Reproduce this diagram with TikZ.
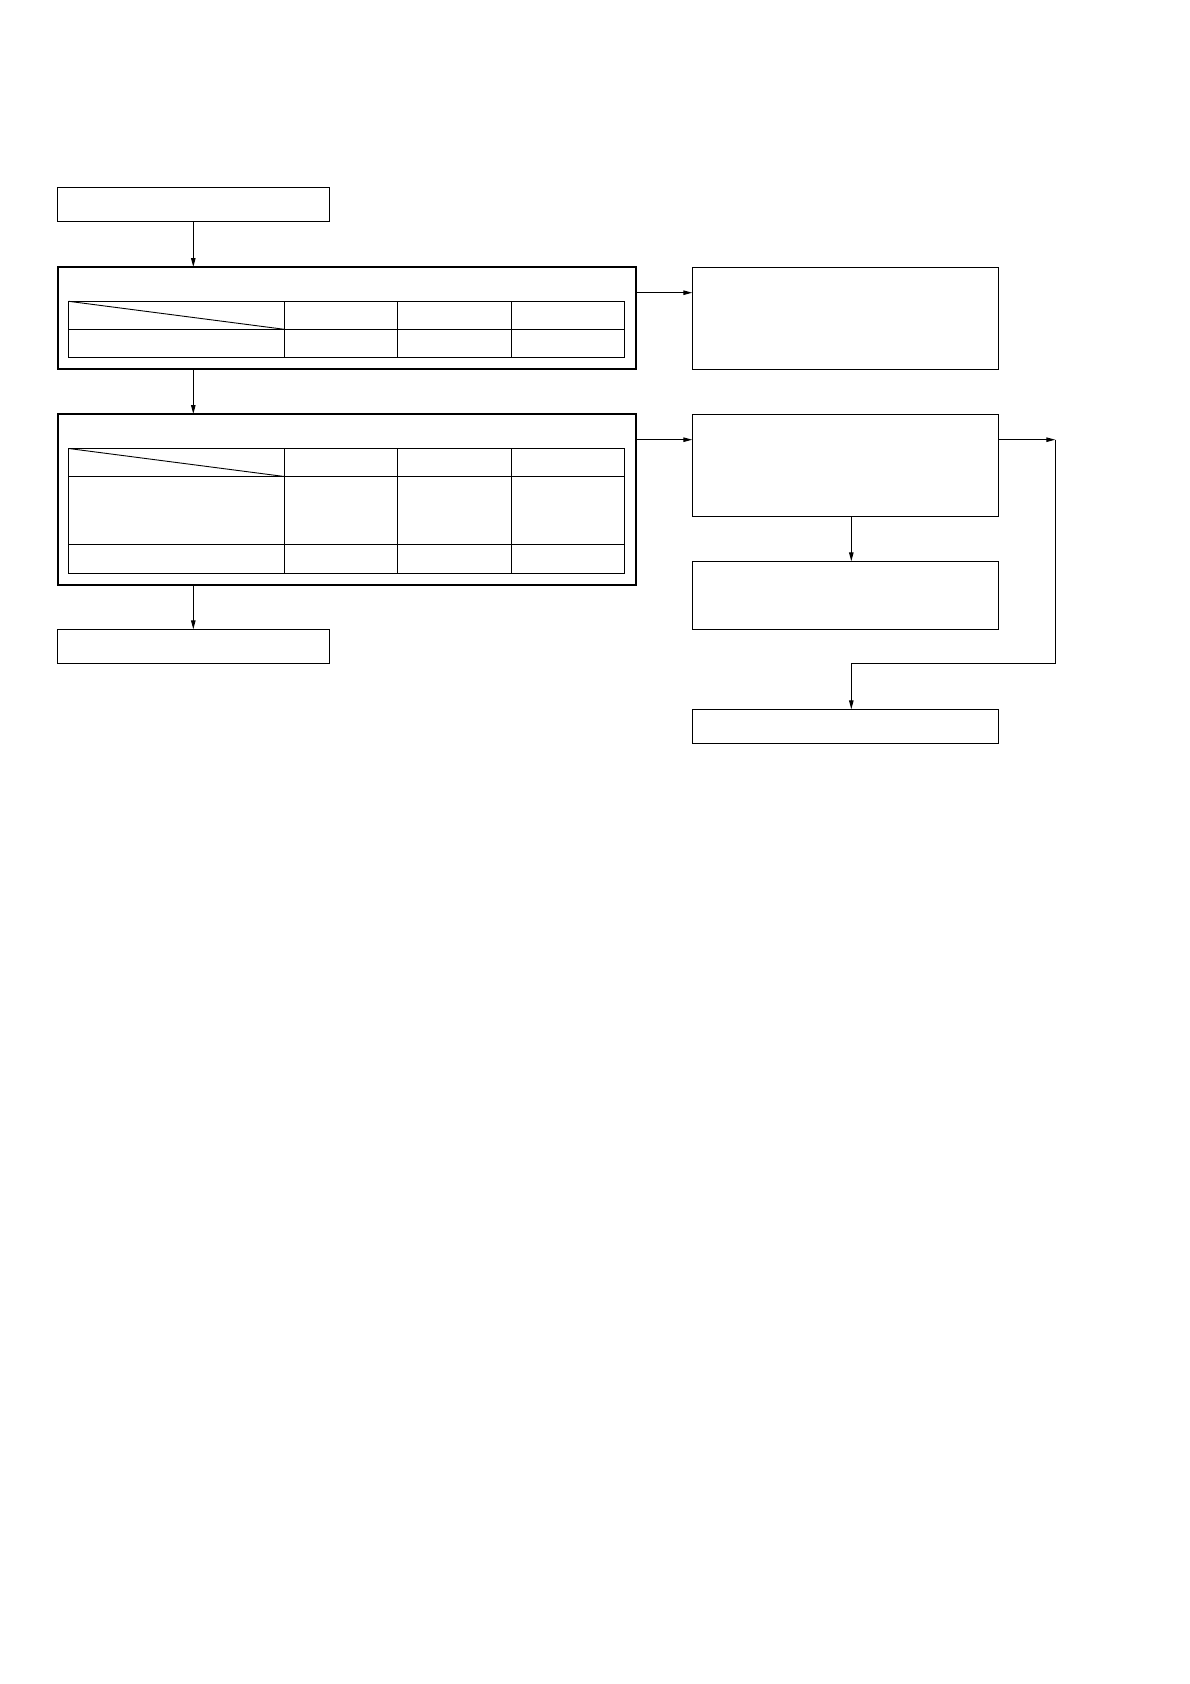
\documentclass[tikz,border=0pt]{standalone}
\usetikzlibrary{arrows.meta,calc}
\begin{document}
\begin{tikzpicture}[x=1pt,y=1pt,
  thinbox/.style={draw,line width=1pt,inner sep=0pt,outer sep=0pt,anchor=north west},
  thickbox/.style={draw,line width=2.2pt,inner sep=0pt,outer sep=0pt,anchor=north west},
  tabline/.style={line width=0.9pt},
  arr/.style={line width=1pt,-{Triangle[length=9pt,width=4.5pt]}},
  plain/.style={line width=1pt}]
\useasboundingbox (0,0) rectangle (1190,-1684);
% left column
\node[thinbox,minimum width=272pt,minimum height=34pt] (start) at (57.3,-187.3) {};
\node[thickbox,minimum width=578.3pt,minimum height=102pt] (t1) at (57.7,-267) {};
\node[thickbox,minimum width=578.3pt,minimum height=171pt] (t2) at (57.7,-414) {};
\node[thinbox,minimum width=272pt,minimum height=34pt] (endl) at (57.3,-629.3) {};
% right column
\node[thinbox,minimum width=306.4pt,minimum height=102pt] (r1) at (692.3,-267.3) {};
\node[thinbox,minimum width=306.4pt,minimum height=102pt] (r2) at (692.3,-414.3) {};
\node[thinbox,minimum width=306.4pt,minimum height=68pt] (r3) at (692.3,-561.3) {};
\node[thinbox,minimum width=306.4pt,minimum height=34pt] (r4) at (692.3,-709.3) {};
% table 1
\draw[tabline] (68.7,-301.3) rectangle (624.7,-357.7);
\draw[tabline] (68.7,-329.3) -- (624.7,-329.3);
\foreach \cx in {284.3,397.7,511} \draw[tabline] (\cx,-301.3) -- (\cx,-357.7);
\draw[tabline] (68.7,-301.3) -- (284.3,-329.3);
% table 2
\draw[tabline] (68.7,-448.5) rectangle (624.7,-573.3);
\draw[tabline] (68.7,-476.5) -- (624.7,-476.5);
\draw[tabline] (68.7,-544.3) -- (624.7,-544.3);
\foreach \cx in {284.3,397.7,511} \draw[tabline] (\cx,-448.5) -- (\cx,-573.3);
\draw[tabline] (68.7,-448.5) -- (284.3,-476.5);
% connectors
\draw[arr] (start.south) -- (start.south |- t1.north);
\draw[arr] (start.south |- t1.south) -- (start.south |- t2.north);
\draw[arr] (start.south |- t2.south) -- (endl.north);
\draw[arr] ([yshift=-25.7pt]t1.north east) -- ([yshift=-25.4pt]r1.north west);
\draw[arr] ([yshift=-25.7pt]t2.north east) -- ([yshift=-25.4pt]r2.north west);
\coordinate (mid) at ([xshift=159pt]r2.south west);
\draw[arr] (mid) -- (mid |- r3.north);
\coordinate (lp) at (1055.3,-439.7);
\coordinate (lc) at (1055.3,-663.3);
\draw[arr] ([yshift=-25.4pt]r2.north east) -- (lp);
\draw[arr] (lp) -- (lc) -- (lc -| mid) -- (mid |- r4.north);
\end{tikzpicture}
\end{document}
